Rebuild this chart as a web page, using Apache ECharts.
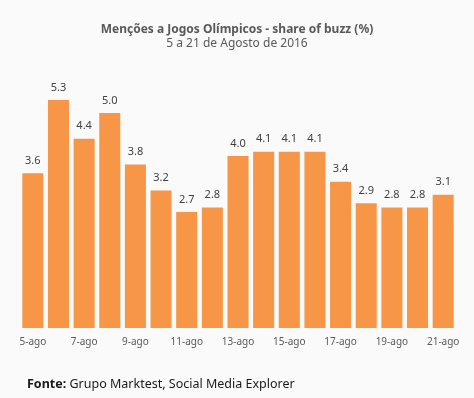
<!DOCTYPE html>
<html>
<head>
<meta charset="utf-8">
<script src="https://cdn.jsdelivr.net/npm/echarts@6/dist/echarts.min.js"></script>
<style>
  html, body { margin: 0; padding: 0; background: #fafafa; }
  #chart { width: 474px; height: 398px; }
</style>
</head>
<body>
<div id="chart"></div>
<script>
// dias (5 a 21 de agosto)
var dias = ['5-ago', '6-ago', '7-ago', '8-ago', '9-ago', '10-ago', '11-ago', '12-ago', '13-ago',
  '14-ago', '15-ago', '16-ago', '17-ago', '18-ago', '19-ago', '20-ago', '21-ago']
// share of buzz (%)
var share = [3.6, 5.3, 4.4, 5.0, 3.8, 3.2, 2.7, 2.8, 4.0, 4.1, 4.1, 4.1, 3.4, 2.9, 2.8, 2.8, 3.1]

var fonte = 'Noto Sans'
var myChart = echarts.init(document.getElementById('chart'))
myChart.setOption({
  backgroundColor: '#fafafa',
  animation: false,
  title: [{
    text: 'Menções a Jogos Olímpicos - share of buzz (%)',
    subtext: '5 a 21 de Agosto de 2016',
    left: 'center',
    top: 19,
    itemGap: 2,
    textStyle: { fontFamily: fonte, fontSize: 12, fontWeight: 'bold', color: '#595959' },
    subtextStyle: { fontFamily: fonte, fontSize: 12, color: '#595959' }
  }],
  graphic: [{
    type: 'text',
    left: 27,
    top: 378,
    style: {
      text: '{b|Fonte:} Grupo Marktest, Social Media Explorer',
      rich: {
        b: { fontFamily: fonte, fontSize: 12.5, fontWeight: 'bold', fill: '#1a1a1a' }
      },
      font: '12.5px "Noto Sans"',
      fill: '#1a1a1a'
    }
  }],
  grid: { left: 20, right: 18, top: 70, bottom: 70 },
  xAxis: {
    type: 'category',
    data: dias,
    axisLine: { show: false },
    axisTick: { show: false },
    axisLabel: {
      interval: 1,
      margin: 9,
      fontFamily: fonte,
      fontSize: 10,
      color: '#595959'
    }
  },
  yAxis: {
    type: 'value',
    min: 0,
    max: 6,
    show: false,
    splitLine: { show: false }
  },
  series: [{
    type: 'bar',
    data: share,
    barWidth: '82%',
    itemStyle: { color: '#f79646' },
    label: {
      show: true,
      position: 'top',
      distance: 7,
      formatter: function (p) { return p.value.toFixed(1) },
      fontFamily: fonte,
      fontSize: 11,
      color: '#404040'
    }
  }]
})
</script>
</body>
</html>
